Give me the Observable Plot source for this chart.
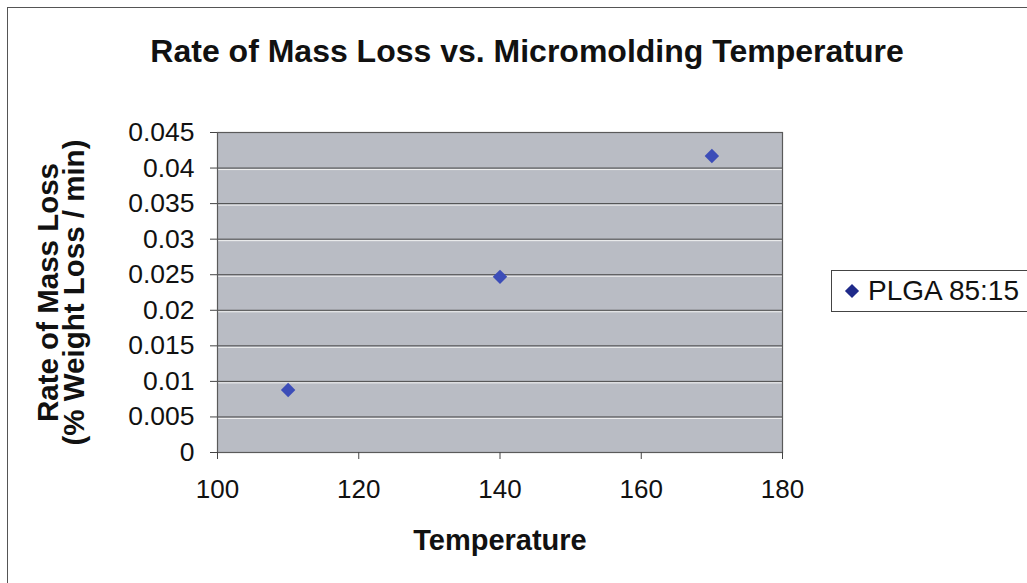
<!DOCTYPE html>
<html>
<head>
<meta charset="utf-8">
<script src="https://cdn.jsdelivr.net/npm/d3@7"></script>
<script src="https://cdn.jsdelivr.net/npm/@observablehq/plot@0.6"></script>
<style>
  html, body { margin: 0; padding: 0; background: #fff; }
  body { width: 1027px; height: 583px; overflow: hidden; position: relative; font-family: "Liberation Sans", Arial, sans-serif; }
  #chart { position: absolute; left: 0; top: 0; }
  #border { position: absolute; left: 7px; top: 7px; width: 1040px; height: 600px; border: 1px solid #555; box-sizing: border-box; }
  #legend { position: absolute; left: 831px; top: 270px; width: 210px; height: 42px; border: 1px solid #444; box-sizing: border-box; background: #fff; display: flex; align-items: center; font-size: 28px; color: #111; }
  #legend .sym { display: inline-block; width: 10px; height: 10px; background: #1f2a8a; transform: rotate(45deg); margin-left: 15px; margin-right: 11px; }
</style>
</head>
<body>
<div id="border"></div>
<div id="chart"></div>
<div id="legend"><span class="sym"></span><span id="legendText"></span></div>
<script>
const title = "Rate of Mass Loss vs. Micromolding Temperature";
const xLabel = "Temperature";
const yLabel = "Rate of Mass Loss\n(% Weight Loss / min)";
const seriesName = "PLGA 85:15";
const temperature = [110, 140, 170];
const massLossRate = [0.0088, 0.0247, 0.0417];
const xTicks = [100, 120, 140, 160, 180];
const yTicks = [0, 0.005, 0.01, 0.015, 0.02, 0.025, 0.03, 0.035, 0.04, 0.045];
const yTickLabels = ["0", "0.005", "0.01", "0.015", "0.02", "0.025", "0.03", "0.035", "0.04", "0.045"];

const points = temperature.map((t, i) => ({t, r: massLossRate[i]}));
document.getElementById("legendText").textContent = seriesName;

const font = "Liberation Sans, Arial, sans-serif";
const chart = Plot.plot({
  width: 1027,
  height: 583,
  marginLeft: 217,
  marginRight: 245,
  marginTop: 132,
  marginBottom: 131,
  style: {fontFamily: font, background: "transparent", overflow: "visible"},
  x: {domain: [100, 180]},
  y: {domain: [0, 0.045]},
  marks: [
    Plot.frame({fill: "#b9bcc4"}),
    Plot.ruleY(yTicks.slice(1, -1), {stroke: "#f2f2f2", strokeWidth: 1, dy: 1.5}),
    Plot.ruleY(yTicks.slice(1, -1), {stroke: "#4a4a4a", strokeWidth: 1}),
    Plot.frame({stroke: "#5a5a5a", strokeWidth: 1.2}),
    Plot.axisX({ticks: xTicks, tickSize: 7, tickPadding: 20, fontSize: 26, label: null, tickFormat: d => String(d), stroke: "#444", fill: "#111"}),
    Plot.axisY({ticks: yTicks, tickSize: 7, tickPadding: 16, fontSize: 26.5, label: null, tickFormat: (d, i) => yTickLabels[i], stroke: "#444", fill: "#111"}),
    Plot.dot(points, {x: "t", y: "r", symbol: "diamond2", r: 6.5, fill: "#3c4db8", stroke: "none"}),
    Plot.text([title], {frameAnchor: "top", dx: 27, dy: -93, fontSize: 32, fontWeight: "bold", fill: "#111"}),
    Plot.text([xLabel], {frameAnchor: "bottom", dy: 97, fontSize: 29, fontWeight: "bold", fill: "#111"}),
    Plot.text([yLabel], {frameAnchor: "left", textAnchor: "middle", dx: -155, rotate: -90, fontSize: 29.5, fontWeight: "bold", lineHeight: 0.9, fill: "#111"})
  ]
});
document.getElementById("chart").appendChild(chart);
</script>
</body>
</html>
